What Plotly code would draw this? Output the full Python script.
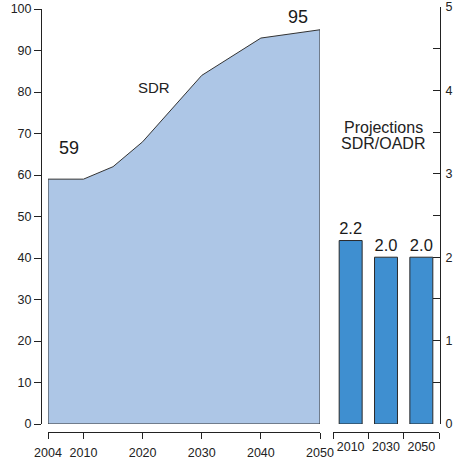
import plotly.graph_objects as go

# Support-ratio series (left panel)
years = [2004, 2010, 2015, 2020, 2030, 2040, 2050]
sdr = [59, 59, 62, 68, 84, 93, 95]
year_ticks = [2004, 2010, 2020, 2030, 2040, 2050]
sdr_ticks = list(range(0, 101, 10))

# SDR/OADR projections (right panel)
proj_years = ["2010", "2030", "2050"]
proj_ratio = [2.2, 2.0, 2.0]
ratio_ticks = [0, 1, 2, 3, 4, 5]

W, H = 460, 463
FONT = "Liberation Sans, Arial, sans-serif"
INK = "#222222"


def px_x(p):
    return p / W


def px_y(p):
    return (H - p) / H


# Closed outline so the area has edges on all sides
poly_x = [years[0]] + years + [years[-1], years[0]]
poly_y = [0] + sdr + [0, 0]

fig = go.Figure()
fig.add_trace(go.Scatter(
    x=poly_x, y=poly_y, mode="lines", fill="toself",
    fillcolor="#adc6e6", line=dict(color="#333333", width=1),
    xaxis="x", yaxis="y", hoverinfo="skip", showlegend=False,
))

fig.add_trace(go.Bar(
    x=proj_years, y=proj_ratio, width=0.65,
    marker=dict(color="#3f8fd0", line=dict(color="#2a2a2a", width=1)),
    text=[f"{v:.1f}" for v in proj_ratio], textposition="outside",
    textfont=dict(family=FONT, size=18, color="#1a1a1a"),
    cliponaxis=False, xaxis="x2", yaxis="y2", showlegend=False,
))

# Value labels at the start and end of the SDR series
fig.add_annotation(x=(years[0] + years[1]) / 2, y=sdr[0], text=str(sdr[0]),
                   xref="x", yref="y", showarrow=False, xshift=3, yshift=31,
                   font=dict(family=FONT, size=18, color="#1a1a1a"))
fig.add_annotation(x=years[-1], y=sdr[-1], text=str(sdr[-1]),
                   xref="x", yref="y", showarrow=False, xshift=-22, yshift=13,
                   font=dict(family=FONT, size=18, color="#1a1a1a"))

# Panel captions
caption = dict(xref="paper", yref="paper", showarrow=False,
               xanchor="center", yanchor="middle")
fig.add_annotation(x=px_x(154), y=px_y(87), text="SDR",
                   font=dict(family=FONT, size=15, color=INK), **caption)
fig.add_annotation(x=px_x(383), y=px_y(128), text="Projections",
                   font=dict(family=FONT, size=16, color=INK), **caption)
fig.add_annotation(x=px_x(383), y=px_y(143), text="SDR/OADR",
                   font=dict(family=FONT, size=16, color=INK), **caption)

tickfont = dict(family=FONT, size=12.5, color=INK)
common = dict(showgrid=False, zeroline=False, automargin=False, tickfont=tickfont,
              showline=True, linecolor=INK, linewidth=1,
              tickcolor=INK, tickwidth=1)

fig.update_layout(
    width=W, height=H, margin=dict(l=0, r=0, t=0, b=0),
    paper_bgcolor="white", plot_bgcolor="white",
    xaxis=dict(domain=[px_x(48), px_x(320)], range=[2004, 2050],
               anchor="free", position=px_y(432),
               tickmode="array", tickvals=year_ticks, tickangle=0,
               ticks="outside", ticklen=6, ticklabelstandoff=3, **common),
    yaxis=dict(domain=[px_y(424), px_y(9)], range=[0, 100],
               anchor="free", position=px_x(41),
               tickmode="array", tickvals=sdr_ticks,
               ticks="outside", ticklen=7, **common),
    xaxis2=dict(domain=[px_x(333), px_x(439)], type="category",
                range=[-0.5, 2.5], anchor="free", position=px_y(432),
                tickson="boundaries", tickangle=0,
                ticks="outside", ticklen=6, ticklabelstandoff=3, **common),
    yaxis2=dict(domain=[px_y(424), px_y(7)], range=[0, 5],
                anchor="free", position=px_x(440), side="right",
                tickmode="array", tickvals=ratio_ticks,
                ticks="inside", ticklen=7, ticklabelstandoff=2,
                minor=dict(dtick=0.5, ticks="inside", ticklen=7,
                           tickcolor=INK, tickwidth=1, showgrid=False),
                **common),
)

fig.write_html("out.html")
